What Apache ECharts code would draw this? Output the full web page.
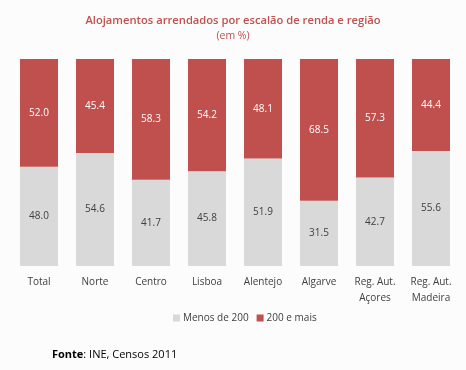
<!DOCTYPE html>
<html><head><meta charset="utf-8">
<script src="https://cdn.jsdelivr.net/npm/echarts@6/dist/echarts.min.js"></script>
<style>html,body{margin:0;padding:0;background:#fcfcfc;}#c{width:466px;height:370px;}</style>
</head><body><div id="c"></div>
<script>
var categories = ['Total','Norte','Centro','Lisboa','Alentejo','Algarve','Reg. Aut.\nAçores','Reg. Aut.\nMadeira'];
var menos200 = [48.0,54.6,41.7,45.8,51.9,31.5,42.7,55.6];
var mais200 = [52.0,45.4,58.3,54.2,48.1,68.5,57.3,44.4];
var seriesNames = ['Menos de 200','200 e mais'];
var ff = '"Open Sans", sans-serif';
var chart = echarts.init(document.getElementById('c'));
chart.setOption({
  backgroundColor:'#fcfcfc',
  animation:false,
  title:[{text:'Alojamentos arrendados por escalão de renda e região',left:'center',top:10,
    textStyle:{color:'#c0504d',fontSize:11.2,fontWeight:600,fontFamily:ff}},
    {text:'(em %)',left:'center',top:26,textStyle:{color:'#c0504d',fontSize:10.5,fontWeight:'normal',fontFamily:ff}},
    {text:'{b|Fonte}: INE, Censos 2011',left:47,top:344,textStyle:{rich:{b:{fontWeight:'bold',fontSize:11,fontFamily:ff,color:'#000'}},color:'#000',fontWeight:'normal',fontSize:11,fontFamily:ff}}],
  legend:{bottom:42,left:168,itemWidth:7,itemHeight:7,itemGap:8,icon:'rect',
    textStyle:{color:'#404040',fontSize:10,fontFamily:ff,padding:[0,0,0,-2]},data:seriesNames},
  grid:{left:11,right:7,top:59,bottom:104,containLabel:false},
  xAxis:{type:'category',data:categories,axisLine:{show:false},axisTick:{show:false},
    axisLabel:{color:'#404040',fontSize:10,fontFamily:ff,margin:8,lineHeight:16,interval:0}},
  yAxis:{type:'value',min:0,max:100,show:false},
  series:[
    {name:seriesNames[0],type:'bar',stack:'a',data:menos200,barWidth:38,itemStyle:{color:'#d9d9d9'},
      label:{show:true,position:'inside',formatter:function(p){return p.value.toFixed(1);},color:'#404040',fontSize:10,fontFamily:ff}},
    {name:seriesNames[1],type:'bar',stack:'a',data:mais200,barWidth:38,itemStyle:{color:'#c0504d'},
      label:{show:true,position:'inside',formatter:function(p){return p.value.toFixed(1);},color:'#fff',fontSize:10,fontFamily:ff}}
  ]
});
</script></body></html>
